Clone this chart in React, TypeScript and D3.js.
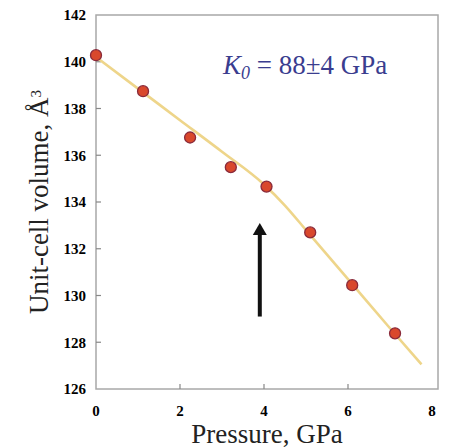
import React, { useEffect, useRef } from "react"
import * as d3 from "d3"

// measured points
const pressure = [0, 1.12, 2.24, 3.21, 4.06, 5.1, 6.1, 7.12]
const volume = [140.28, 138.74, 136.76, 135.49, 134.66, 132.7, 130.44, 128.38]

// EOS fit curve
const fitP = [0, 1, 2, 3, 4, 4.5, 5, 6, 7, 7.75]
const fitV = [140.2, 138.85, 137.5, 136.15, 134.75, 133.85, 132.8, 130.7, 128.6, 127.05]

const xTicks = [0, 2, 4, 6, 8]
const yTicks = [126, 128, 130, 132, 134, 136, 138, 140, 142]

// arrow marking the transition
const arrowP = 3.9
const arrowV = [129.1, 133.1]

const W = 454
const H = 448
const margin = { top: 15, right: 19, bottom: 59, left: 96 }

export default function App() {
  const ref = useRef<SVGSVGElement>(null)

  useEffect(() => {
    const svg = d3.select(ref.current)
    svg.selectAll("*").remove()

    const width = W - margin.left - margin.right
    const height = H - margin.top - margin.bottom

    const x = d3.scaleLinear().domain([0, 8]).range([margin.left, margin.left + 336])
    const y = d3.scaleLinear().domain([126, 142]).range([margin.top + height, margin.top])

    const g = svg.append("g")

    // frame
    g.append("rect")
      .attr("x", margin.left)
      .attr("y", margin.top)
      .attr("width", width + 3)
      .attr("height", height)
      .attr("fill", "none")
      .attr("stroke", "#a8a8a8")
      .attr("stroke-width", 1.5)

    // ticks
    g.selectAll(".yt")
      .data(yTicks.slice(1, -1))
      .enter()
      .append("line")
      .attr("x1", margin.left)
      .attr("x2", margin.left + 5)
      .attr("y1", d => y(d))
      .attr("y2", d => y(d))
      .attr("stroke", "#888")
      .attr("stroke-width", 1.2)
    g.selectAll(".xt")
      .data(xTicks.slice(1, -1))
      .enter()
      .append("line")
      .attr("x1", d => x(d))
      .attr("x2", d => x(d))
      .attr("y1", margin.top + height)
      .attr("y2", margin.top + height - 5)
      .attr("stroke", "#888")
      .attr("stroke-width", 1.2)

    // tick labels
    g.selectAll(".yl")
      .data(yTicks)
      .enter()
      .append("text")
      .attr("x", 86)
      .attr("y", d => y(d))
      .attr("dy", "0.35em")
      .attr("text-anchor", "end")
      .style("font-family", "'Liberation Serif', serif")
      .style("font-weight", "bold")
      .style("font-size", "15px")
      .text(d => d)
    g.selectAll(".xl")
      .data(xTicks)
      .enter()
      .append("text")
      .attr("x", d => x(d))
      .attr("y", 416)
      .attr("text-anchor", "middle")
      .style("font-family", "'Liberation Serif', serif")
      .style("font-weight", "bold")
      .style("font-size", "15px")
      .text(d => d)

    // axis titles
    g.append("text")
      .attr("x", 267)
      .attr("y", 443)
      .attr("text-anchor", "middle")
      .style("font-family", "'Liberation Serif', serif")
      .style("font-size", "27px")
      .style("fill", "#222")
      .text("Pressure, GPa")
    const yt = g.append("text")
      .attr("transform", "translate(48," + 202 + ") rotate(-90)")
      .attr("text-anchor", "middle")
      .style("font-family", "'Liberation Serif', serif")
      .style("font-size", "27px")
      .style("fill", "#222")
    yt.append("tspan").text("Unit-cell volume, Å")
    yt.append("tspan").attr("dy", "-0.5em").style("font-size", "15px").text("3")

    // fit line
    const line = d3.line<number>()
      .x((d, i) => x(fitP[i]))
      .y(d => y(d))
      .curve(d3.curveMonotoneX)
    g.append("path")
      .attr("d", line(fitV))
      .attr("fill", "none")
      .attr("stroke", "#eed58a")
      .attr("stroke-width", 2.6)

    // points
    g.selectAll(".pt")
      .data(volume)
      .enter()
      .append("circle")
      .attr("cx", (d, i) => x(pressure[i]))
      .attr("cy", d => y(d))
      .attr("r", 5.5)
      .attr("fill", "#d9482c")
      .attr("stroke", "#8a2a3a")
      .attr("stroke-width", 1.3)

    // arrow
    const ax = x(arrowP)
    g.append("line")
      .attr("x1", ax)
      .attr("x2", ax)
      .attr("y1", y(arrowV[0]))
      .attr("y2", y(arrowV[1]) + 10)
      .attr("stroke", "#111")
      .attr("stroke-width", 4)
    g.append("path")
      .attr("d", `M${ax - 7},${y(arrowV[1]) + 12} L${ax},${y(arrowV[1])} L${ax + 7},${y(arrowV[1]) + 12} Z`)
      .attr("fill", "#111")

    // annotation
    const ann = g.append("text")
      .attr("x", 223)
      .attr("y", 74)
      .style("font-family", "'Liberation Serif', serif")
      .style("font-size", "27px")
      .style("fill", "#3a3d8f")
    ann.append("tspan").style("font-style", "italic").text("K")
    ann.append("tspan").attr("dy", "5").style("font-style", "italic").style("font-size", "18px").text("0")
    ann.append("tspan").attr("dy", "-5").text(" = 88±4 GPa")
  }, [])

  return <svg ref={ref} width={W} height={H} style={{ display: "block", position: "absolute", left: 0, top: 0 }} />
}
